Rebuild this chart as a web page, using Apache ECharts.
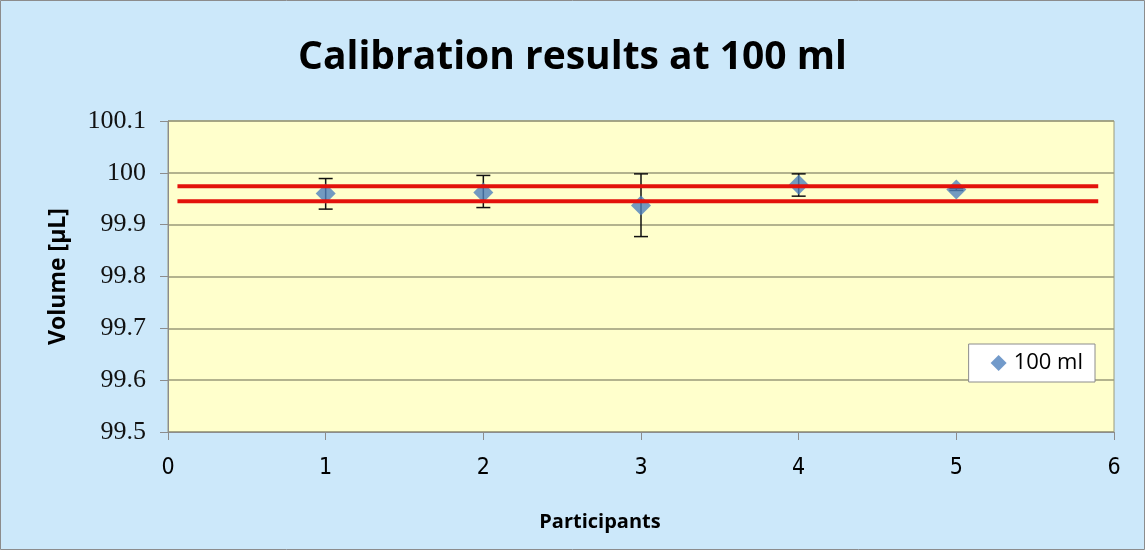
<!DOCTYPE html>
<html>
<head>
<meta charset="utf-8">
<script src="https://cdn.jsdelivr.net/npm/echarts@6/dist/echarts.min.js"></script>
<style>
  html, body { margin: 0; padding: 0; background: #fff; }
  #chart { width: 1145px; height: 550px; }
</style>
</head>
<body>
<div id="chart"></div>
<script>
// participants and measured volume (mean, lower, upper)
const participants = [1, 2, 3, 4, 5]
const means = [99.960, 99.962, 99.937, 99.977, 99.968]
const lows = [99.930, 99.933, 99.877, 99.955, 99.966]
const highs = [99.989, 99.995, 99.998, 99.998, 99.970]
// red limit lines
const limitX = [0.06, 5.9]
const upperLimit = 99.974
const lowerLimit = 99.945

const points = participants.map((p, i) => [p, means[i]])
const bars = participants.map((p, i) => [p, lows[i], highs[i]])

const FONT = '"Open Sans", Lato, sans-serif'
const c = echarts.init(document.getElementById('chart'))

c.setOption({
  animation: false,
  backgroundColor: '#cce8fa',
  textStyle: { fontFamily: FONT },
  graphic: [
    {
      type: 'rect',
      shape: { x: 0.5, y: 0.5, width: 1144, height: 549 },
      style: { fill: 'none', stroke: '#8c8c8c', lineWidth: 1 },
      silent: true,
    },
  ],
  title: {
    text: 'Calibration results at 100 ml',
    left: 'center',
    top: 33,
    textStyle: { fontSize: 39, fontWeight: 'bold', color: '#000', fontFamily: FONT },
  },
  legend: {
    data: [{ name: '100 ml', icon: 'diamond' }],
    right: 50,
    top: 344,
    backgroundColor: '#fff',
    borderColor: '#8c8c8c',
    borderWidth: 1,
    borderRadius: 0,
    padding: [8, 12, 8, 22],
    itemWidth: 16,
    itemHeight: 16,
    itemGap: 4,
    textStyle: { fontSize: 22, color: '#000', fontFamily: FONT, padding: [0, 0, 0, 2] },
  },
  grid: {
    left: 168,
    right: 31,
    top: 121,
    bottom: 118,
    show: true,
    backgroundColor: '#ffffcc',
    borderColor: '#9a9a7a',
    borderWidth: 1,
  },
  xAxis: {
    type: 'value',
    min: 0,
    max: 6,
    interval: 1,
    name: 'Participants',
    nameLocation: 'middle',
    nameGap: 80,
    nameTextStyle: {
      fontSize: 20,
      fontWeight: 'bold',
      color: '#000',
      fontFamily: FONT,
      padding: [0, 82, 0, 0],
    },
    axisLine: { show: true, lineStyle: { color: '#8c8c8c' } },
    axisTick: { show: true, length: 8, lineStyle: { color: '#8c8c8c' } },
    axisLabel: {
      fontSize: 23,
      color: '#000',
      margin: 25,
      fontFamily: '"Liberation Sans Narrow", "DejaVu Sans Condensed", sans-serif',
    },
    splitLine: { show: false },
  },
  yAxis: {
    type: 'value',
    min: 99.5,
    max: 100.1,
    interval: 0.1,
    name: 'Volume [µL]',
    nameLocation: 'middle',
    nameGap: 98,
    nameRotate: 90,
    nameTextStyle: { fontSize: 23, fontWeight: 'bold', color: '#000', fontFamily: FONT },
    axisLine: { show: true, lineStyle: { color: '#8c8c8c' } },
    axisTick: { show: true, length: 8, lineStyle: { color: '#8c8c8c' } },
    axisLabel: {
      fontSize: 26,
      color: '#111',
      margin: 22,
      fontFamily: '"Liberation Serif", serif',
      formatter: (v) => String(Math.round(v * 10) / 10),
    },
    splitLine: { show: true, lineStyle: { color: '#9a9a7a', width: 1.5 } },
  },
  series: [
    {
      name: 'errors',
      type: 'custom',
      z: 2,
      data: bars,
      renderItem: (params, api) => {
        const x = api.value(0)
        const lo = api.coord([x, api.value(1)])
        const hi = api.coord([x, api.value(2)])
        const w = 7
        const st = { stroke: '#111', lineWidth: 1.5 }
        return {
          type: 'group',
          children: [
            { type: 'line', shape: { x1: lo[0], y1: lo[1], x2: hi[0], y2: hi[1] }, style: st },
            { type: 'line', shape: { x1: lo[0] - w, y1: lo[1], x2: lo[0] + w, y2: lo[1] }, style: st },
            { type: 'line', shape: { x1: hi[0] - w, y1: hi[1], x2: hi[0] + w, y2: hi[1] }, style: st },
          ],
        }
      },
    },
    {
      name: '100 ml',
      type: 'scatter',
      symbol: 'diamond',
      symbolSize: 20,
      z: 3,
      data: points,
      itemStyle: { color: '#4f81bd' },
    },
    {
      name: 'upper',
      type: 'line',
      z: 4,
      symbol: 'none',
      data: limitX.map((x) => [x, upperLimit]),
      lineStyle: { color: '#e3120b', width: 4 },
    },
    {
      name: 'lower',
      type: 'line',
      z: 4,
      symbol: 'none',
      data: limitX.map((x) => [x, lowerLimit]),
      lineStyle: { color: '#e3120b', width: 4 },
    },
  ],
})
</script>
</body>
</html>
